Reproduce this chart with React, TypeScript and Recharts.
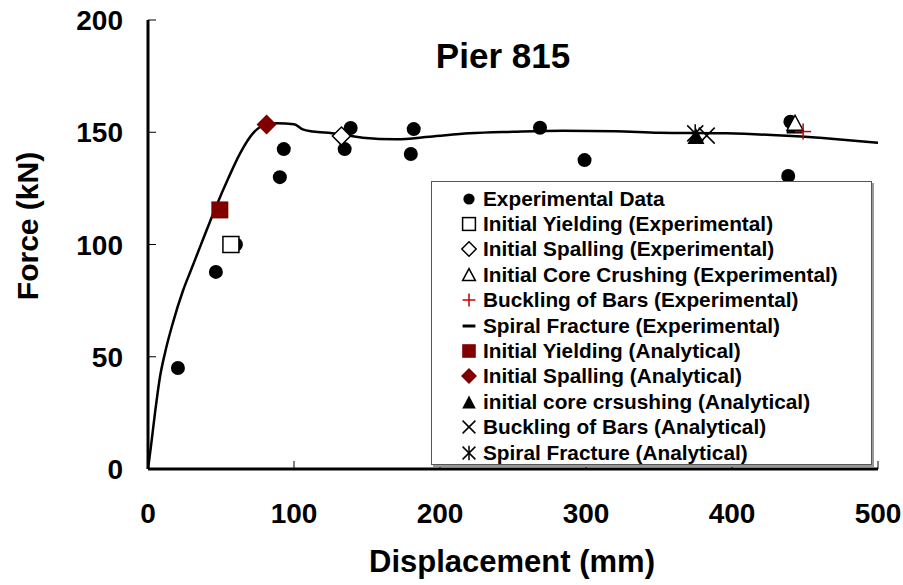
import React from "react";
import {
  ComposedChart,
  Line,
  Scatter,
  XAxis,
  YAxis
} from "recharts";

// analytical pushover curve
const curveX = [0, 2, 4.8, 8.2, 11.6, 17, 24, 30, 36, 47, 55, 63, 72, 81, 88, 100, 106, 113, 126, 147, 170, 193, 220, 250, 284, 320, 350, 396, 441, 470, 500];
const curveY = [0, 10, 25, 41, 51.6, 65, 79.5, 89.5, 99.5, 117.5, 129.5, 140.5, 149.6, 153.5, 154, 153.6, 151.3, 150.3, 149.6, 147.6, 146.9, 148, 149.5, 150.2, 150.7, 150.5, 149.8, 149.5, 148.3, 147, 145.3];

// experimental data
const expX = [20.5, 46.5, 60.2, 90.3, 93, 134.7, 138.8, 180, 182, 268.5, 299, 438.5, 440];
const expY = [45, 87.8, 100, 130, 142.5, 142.5, 151.9, 140.3, 151.4, 152, 137.6, 130.5, 154.7];

// damage states: [x, y]
const yieldExp = [56.8, 100];
const spallExp = [132.5, 148.3];
const coreExp = [443.2, 154];
const buckExp = [448.7, 150.3];
const spiralExp = [442.9, 150.1];
const yieldAna = [49.2, 115.4];
const spallAna = [81.2, 153.5];
const coreAna = [375.3, 148.3];
const buckAna = [382.7, 148.5];
const spiralAna = [374.8, 149.5];

const xTicks = [0, 100, 200, 300, 400, 500];
const yTicks = [0, 50, 100, 150, 200];

const FONT = '"Liberation Sans", Arial, sans-serif';
const DARK_RED = "#800000";
const RED = "#c00000";

const toPoints = (xs: number[], ys: number[]) => xs.map((x, i) => ({ x, y: ys[i] }));
const single = (p: number[]) => [{ x: p[0], y: p[1] }];

const curveData = toPoints(curveX, curveY);
const expData = toPoints(expX, expY);

type Kind =
  | "circle"
  | "openSquare"
  | "openDiamond"
  | "openTriangle"
  | "plus"
  | "dash"
  | "square"
  | "diamond"
  | "triangle"
  | "cross"
  | "star";

function marker(kind: Kind, cx: number, cy: number, k = 1): React.JSX.Element {
  switch (kind) {
    case "circle":
      return <circle cx={cx} cy={cy} r={7 * k} fill="#000" />;
    case "openSquare":
      return <rect x={cx - 8 * k} y={cy - 8 * k} width={16 * k} height={16 * k} fill="#fff" stroke="#000" strokeWidth={1.5} />;
    case "openDiamond":
      return (
        <polygon
          points={`${cx},${cy - 9 * k} ${cx + 9 * k},${cy} ${cx},${cy + 9 * k} ${cx - 9 * k},${cy}`}
          fill="#fff"
          stroke="#000"
          strokeWidth={1.5}
        />
      );
    case "openTriangle":
      return (
        <polygon
          points={`${cx},${cy - 8 * k} ${cx + 8 * k},${cy + 7 * k} ${cx - 8 * k},${cy + 7 * k}`}
          fill="#fff"
          stroke="#000"
          strokeWidth={1.5}
        />
      );
    case "plus":
      return (
        <g stroke={RED} strokeWidth={1.5}>
          <line x1={cx - 8 * k} x2={cx + 8 * k} y1={cy} y2={cy} />
          <line x1={cx} x2={cx} y1={cy - 8 * k} y2={cy + 8 * k} />
        </g>
      );
    case "dash":
      return <line x1={cx - 8 * k} x2={cx + 8 * k} y1={cy} y2={cy} stroke="#000" strokeWidth={3} />;
    case "square":
      return <rect x={cx - 8.5 * k} y={cy - 8.5 * k} width={17 * k} height={17 * k} fill={DARK_RED} />;
    case "diamond":
      return (
        <polygon
          points={`${cx},${cy - 10 * k} ${cx + 10 * k},${cy} ${cx},${cy + 10 * k} ${cx - 10 * k},${cy}`}
          fill={DARK_RED}
        />
      );
    case "triangle":
      return (
        <polygon
          points={`${cx},${cy - 8 * k} ${cx + 8.5 * k},${cy + 8 * k} ${cx - 8.5 * k},${cy + 8 * k}`}
          fill="#000"
        />
      );
    case "cross":
      return (
        <g stroke="#000" strokeWidth={1.5}>
          <line x1={cx - 8 * k} x2={cx + 8 * k} y1={cy - 8 * k} y2={cy + 8 * k} />
          <line x1={cx - 8 * k} x2={cx + 8 * k} y1={cy + 8 * k} y2={cy - 8 * k} />
        </g>
      );
    case "star":
      return (
        <g stroke="#000" strokeWidth={1.5}>
          <line x1={cx - 8 * k} x2={cx + 8 * k} y1={cy - 8 * k} y2={cy + 8 * k} />
          <line x1={cx - 8 * k} x2={cx + 8 * k} y1={cy + 8 * k} y2={cy - 8 * k} />
          <line x1={cx} x2={cx} y1={cy - 9 * k} y2={cy + 9 * k} />
        </g>
      );
  }
}

const legendItems: { kind: Kind; label: string }[] = [
  { kind: "circle", label: "Experimental Data" },
  { kind: "openSquare", label: "Initial Yielding (Experimental)" },
  { kind: "openDiamond", label: "Initial Spalling (Experimental)" },
  { kind: "openTriangle", label: "Initial Core Crushing (Experimental)" },
  { kind: "plus", label: "Buckling of Bars (Experimental)" },
  { kind: "dash", label: "Spiral Fracture (Experimental)" },
  { kind: "square", label: "Initial Yielding (Analytical)" },
  { kind: "diamond", label: "Initial Spalling (Analytical)" },
  { kind: "triangle", label: "initial core crsushing (Analytical)" },
  { kind: "cross", label: "Buckling of Bars (Analytical)" },
  { kind: "star", label: "Spiral Fracture (Analytical)" }
];

const YTick = (props: any) => {
  const { x, y, payload } = props;
  return (
    <g>
      <line x1={x} x2={x + 8} y1={y} y2={y} stroke="#000" strokeWidth={1} />
      <text x={x - 25} y={y + 10} textAnchor="end" fontSize={28} fontWeight="bold" fontFamily={FONT} fill="#000">
        {payload.value}
      </text>
    </g>
  );
};

const XTick = (props: any) => {
  const { x, y, payload } = props;
  return (
    <g>
      <line x1={x} x2={x} y1={y} y2={y - 8} stroke="#000" strokeWidth={1} />
      <text x={x} y={y + 54} textAnchor="middle" fontSize={28} fontWeight="bold" fontFamily={FONT} fill="#000">
        {payload.value}
      </text>
    </g>
  );
};

const LegendBox = () => (
  <div
    style={{
      position: "absolute",
      left: 431,
      top: 181,
      width: 441,
      height: 284,
      boxSizing: "border-box",
      border: "1px solid #555",
      boxShadow: "2px 2px 0 #999",
      background: "#fff",
      paddingTop: 4
    }}
  >
    {legendItems.map((item) => (
      <div key={item.label} style={{ display: "flex", alignItems: "center", height: 25.4 }}>
        <svg width={20} height={20} style={{ marginLeft: 27, marginRight: 4, flex: "none" }}>
          {marker(item.kind, 10, 10, 0.8)}
        </svg>
        <span style={{ fontFamily: FONT, fontWeight: "bold", fontSize: 20.8, color: "#000", whiteSpace: "nowrap" }}>
          {item.label}
        </span>
      </div>
    ))}
  </div>
);

const scatterSeries: { point: number[]; kind: Kind }[] = [
  { point: yieldExp, kind: "openSquare" },
  { point: spallExp, kind: "openDiamond" },
  { point: coreExp, kind: "openTriangle" },
  { point: spiralExp, kind: "dash" },
  { point: buckExp, kind: "plus" },
  { point: yieldAna, kind: "square" },
  { point: spallAna, kind: "diamond" },
  { point: coreAna, kind: "triangle" },
  { point: buckAna, kind: "cross" },
  { point: spiralAna, kind: "star" }
];

const textBase: React.CSSProperties = {
  position: "absolute",
  fontFamily: FONT,
  fontWeight: "bold",
  lineHeight: 1,
  whiteSpace: "nowrap",
  color: "#000"
};

export default function App(): React.JSX.Element {
  return (
    <div style={{ position: "absolute", left: 0, top: 0, width: 903, height: 585, background: "#fff" }}>
      <ComposedChart width={903} height={585} margin={{ top: 20, right: 25, left: 88, bottom: 86 }}>
        <XAxis
          dataKey="x"
          type="number"
          domain={[0, 500]}
          ticks={xTicks}
          tick={<XTick />}
          tickLine={false}
          tickSize={0}
          tickMargin={0}
          height={30}
          axisLine={{ stroke: "#000", strokeWidth: 3 }}
        />
        <XAxis
          xAxisId="top"
          orientation="top"
          type="number"
          domain={[0, 500]}
          tick={false}
          tickLine={false}
          height={0}
          axisLine={{ stroke: "#000", strokeWidth: 2.5 }}
        />
        <YAxis
          type="number"
          domain={[0, 200]}
          ticks={yTicks}
          tick={<YTick />}
          tickLine={false}
          tickSize={0}
          tickMargin={0}
          width={60}
          axisLine={{ stroke: "#000", strokeWidth: 3 }}
        />
        <YAxis
          yAxisId="right"
          orientation="right"
          type="number"
          domain={[0, 200]}
          tick={false}
          tickLine={false}
          width={0}
          axisLine={{ stroke: "#000", strokeWidth: 2.5 }}
        />
        <Scatter
          data={expData}
          dataKey="y"
          shape={(p: any) => marker("circle", p.cx, p.cy)}
          isAnimationActive={false}
          legendType="none"
        />
        <Line
          data={curveData}
          dataKey="y"
          type="monotone"
          stroke="#000"
          strokeWidth={2.5}
          dot={false}
          activeDot={false}
          isAnimationActive={false}
          legendType="none"
        />
        {scatterSeries.map((s, i) => (
          <Scatter
            key={i}
            data={single(s.point)}
            dataKey="y"
            shape={(p: any) => marker(s.kind, p.cx, p.cy)}
            isAnimationActive={false}
            legendType="none"
          />
        ))}
      </ComposedChart>
      <LegendBox />
      <div style={{ ...textBase, fontSize: 35, left: 503, top: 55, transform: "translate(-50%, -50%)" }}>Pier 815</div>
      <div style={{ ...textBase, fontSize: 31, left: 512, top: 561, transform: "translate(-50%, -50%)" }}>
        Displacement (mm)
      </div>
      <div
        style={{ ...textBase, fontSize: 30, left: 28, top: 226, transform: "translate(-50%, -50%) rotate(-90deg)" }}
      >
        Force (kN)
      </div>
    </div>
  );
}
